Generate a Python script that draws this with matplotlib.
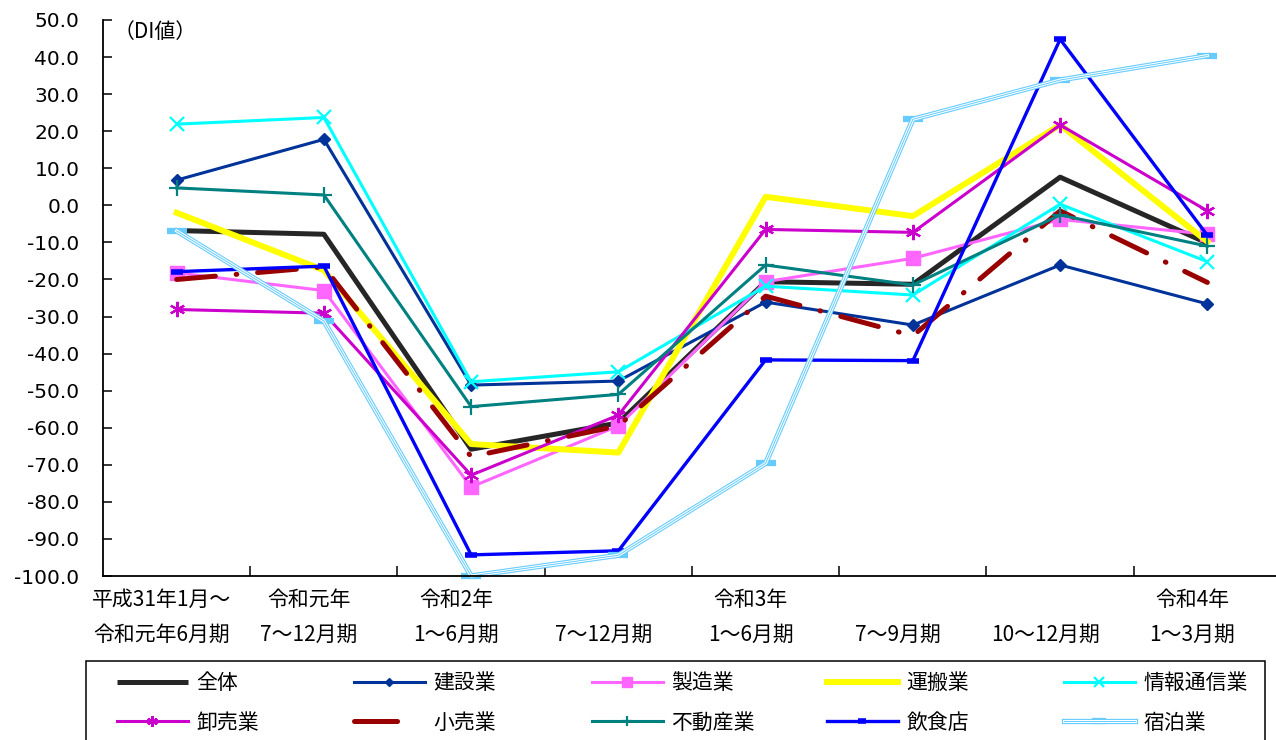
"""
DI値の推移（業種別）の折れ線グラフ
"""

import matplotlib
matplotlib.use("Agg")
import matplotlib.pyplot as plt
import matplotlib.patches as patches
from matplotlib.lines import Line2D
from matplotlib.transforms import ScaledTranslation

plt.rcParams['font.family'] = ['Noto Sans CJK JP', 'DejaVu Sans']
plt.rcParams['lines.scale_dashes'] = False

# データ
periods = [
    "平成31年1月～\n令和元年6月期",
    "令和元年\n7～12月期",
    "令和2年\n1～6月期",
    "\n7～12月期",
    "令和3年\n1～6月期",
    "\n7～9月期",
    "\n10～12月期",
    "令和4年\n1～3月期",
]
series_names = ["全体", "建設業", "製造業", "運搬業", "情報通信業",
                "卸売業", "小売業", "不動産業", "飲食店", "宿泊業"]

zentai = [-6.8, -7.8, -65.8, -58.7, -20.6, -21.3, 7.6, -10.2]
kensetsu = [6.8, 17.8, -48.5, -47.4, -26.1, -32.3, -16.1, -26.6]
seizou = [-18.2, -23.0, -76.0, -59.5, -20.6, -14.3, -3.8, -7.8]
unpan = [-2.0, -17.5, -64.4, -66.7, 2.3, -2.9, 21.7, -9.8]
jouhou = [21.9, 23.7, -47.6, -44.9, -21.8, -24.2, 0.3, -15.2]
oroshi = [-28.1, -29.1, -72.8, -56.6, -6.5, -7.3, 21.7, -1.5]
kouri = [-20.0, -16.6, -67.8, -59.5, -24.5, -35.2, -1.5, -20.8]
fudousan = [4.7, 2.8, -54.3, -51.0, -16.1, -21.5, -2.6, -11.0]
inshoku = [-17.9, -16.4, -94.3, -93.2, -41.7, -41.9, 44.8, -8.1]
shukuhaku = [-6.9, -31.2, -100.0, -94.4, -69.6, 23.2, 33.8, 40.4]

yticks = list(range(-100, 51, 10))

fig = plt.figure(figsize=(12.76, 7.40), dpi=100)
ax = fig.add_axes([103 / 1276, 164 / 740, 1178 / 1276, 556 / 740])

x = list(range(len(periods)))
handles = []

# 線の描画（系列順）
h, = ax.plot(x, zentai, color='#262626', lw=3.6, solid_capstyle='butt', clip_on=False)
handles.append(h)
h, = ax.plot(x, kensetsu, color='#003399', lw=2.2, marker='D', ms=6, clip_on=False)
handles.append(h)
h, = ax.plot(x, seizou, color='#FF66FF', lw=2.2, marker='s', ms=10, clip_on=False)
handles.append(h)
h, = ax.plot(x, unpan, color='#FFFF00', lw=4.3, clip_on=False)
handles.append(h)
h, = ax.plot(x, jouhou, color='#00FFFF', lw=2.2, marker='x', ms=10, mew=1.6, clip_on=False)
handles.append(h)
h, = ax.plot(x, oroshi, color='#CC00CC', lw=2.2, marker=(6, 2, 0), ms=11, mew=1.6, clip_on=False)
handles.append(h)
h, = ax.plot(x, kouri, color='#990000', lw=3.6, linestyle=(0, (28, 15, 0.5, 15)),
             dash_capstyle='round', clip_on=False)
# 凡例では短い破線だけ見える
handles.append(Line2D([], [], color='#990000', lw=3.6, linestyle=(0, (31, 60)),
                      dash_capstyle='round'))
h, = ax.plot(x, fudousan, color='#008080', lw=2.2, marker='+', ms=11, mew=1.6, clip_on=False)
handles.append(h)
h, = ax.plot(x, inshoku, color='#0000FF', lw=2.4, marker='_', ms=9, mew=4, clip_on=False)
handles.append(h)
# 宿泊業は二重線
h1, = ax.plot(x, shukuhaku, color='#66CCFF', lw=3.8, marker='_', ms=15, mew=4.5, clip_on=False)
h2, = ax.plot(x, shukuhaku, color='white', lw=2.2, clip_on=False)
h3, = ax.plot(x, shukuhaku, color='#66CCFF', lw=0.7, clip_on=False)
handles.append((h1, h2, h3))

# 軸
ax.set_xlim(-0.5, len(periods) - 0.5)
ax.set_ylim(-100, 50)
ax.set_yticks(yticks)
ax.set_yticklabels([f"{v:.1f}" for v in yticks], family='DejaVu Sans', fontsize=14.5)
ax.set_xticks(x)
ax.set_xticklabels(periods, fontsize=15, linespacing=1.75)
ax.set_xticks([i + 0.5 for i in x], minor=True)
ax.tick_params(axis='x', which='major', length=0, pad=9.5)
ax.tick_params(axis='x', which='minor', direction='in', length=7, width=1.1)
ax.tick_params(axis='y', direction='in', length=6.5, width=1.1, pad=17)
for s in ['top', 'right']:
    ax.spines[s].set_visible(False)
for s in ['left', 'bottom']:
    ax.spines[s].set_linewidth(1.3)

shift = ScaledTranslation(-15 / 100, 0, fig.dpi_scale_trans)
for lab in ax.get_xticklabels():
    lab.set_transform(lab.get_transform() + shift)

fig.text(114 / 1276, 1 - 32 / 740, "（DI値）", fontsize=15, va='center', ha='left')

# 凡例（列ごとに配置）
col_x = [117, 354, 592, 827, 1064]
for c in range(5):
    fig.legend([handles[c], handles[c + 5]], [series_names[c], series_names[c + 5]],
               loc='upper left', bbox_to_anchor=(col_x[c] / 1276, 1 - 672 / 740),
               frameon=False, fontsize=15, handlelength=3.4, handletextpad=0.4,
               labelspacing=0.85, borderpad=0, borderaxespad=0, numpoints=1,
               markerscale=0.7)

frame = patches.Rectangle((86 / 1276, -0.05), (1265 - 86) / 1276, (740 - 661) / 740 + 0.05,
                          transform=fig.transFigure, fill=False, edgecolor='black',
                          linewidth=1.1, clip_on=False)
fig.add_artist(frame)

plt.savefig("out.png", dpi=100)
plt.close()
